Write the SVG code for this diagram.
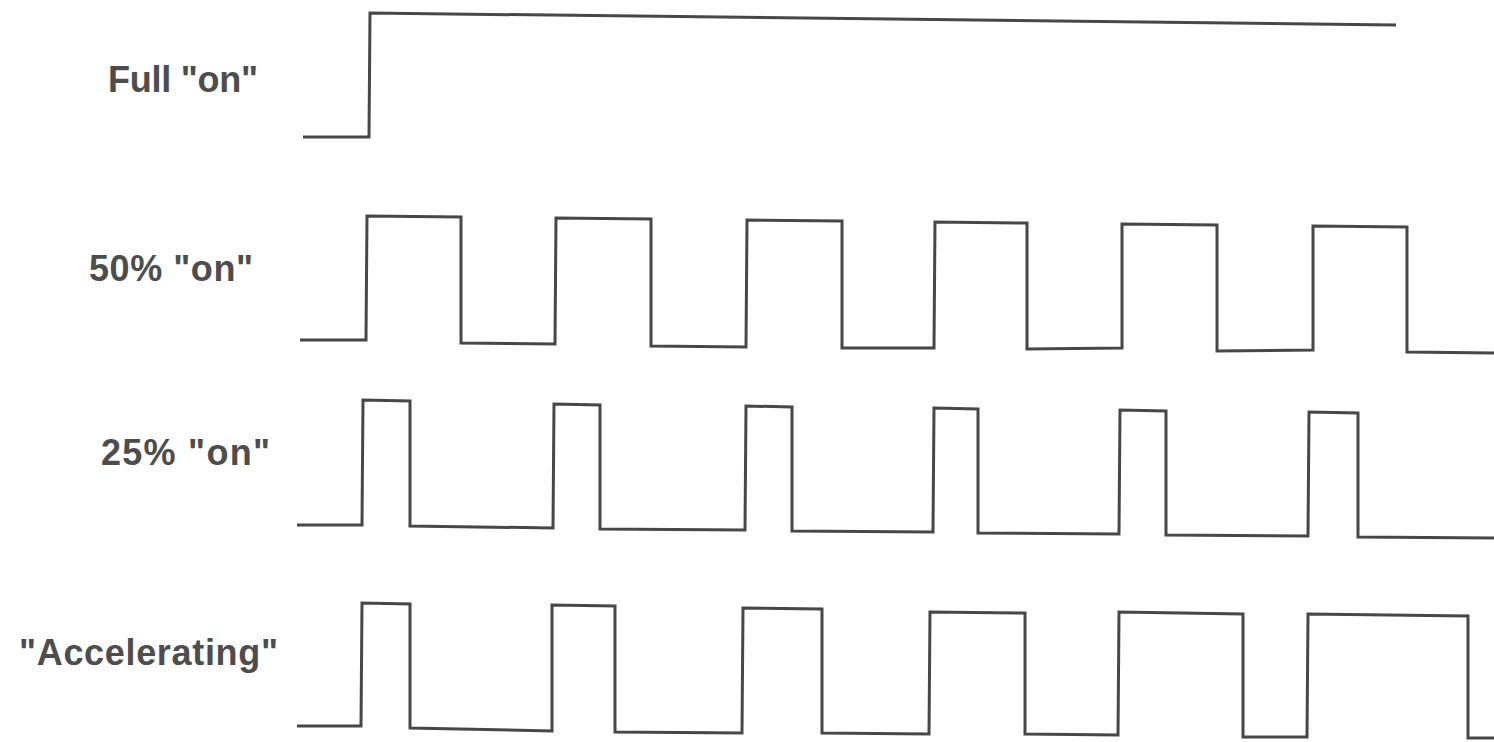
<svg xmlns="http://www.w3.org/2000/svg" width="1494" height="742" viewBox="0 0 1494 742">
<style>
.lbl{font-family:"Liberation Sans",Arial,sans-serif;font-weight:bold;font-size:36px;fill:#4d4d4d}
.wave{fill:none;stroke:#474747;stroke-width:3;stroke-linejoin:miter;stroke-linecap:butt}
</style>
<rect width="1494" height="742" fill="#ffffff"/>
<g id="row-full">
<text class="lbl" x="108" y="92" textLength="150" lengthAdjust="spacing">Full "on"</text>
<path class="wave" d="M303,137 L369,137 L370,13 L1396,25"/>
</g>
<g id="row-50">
<text class="lbl" x="89" y="281" textLength="164" lengthAdjust="spacing">50% "on"</text>
<path class="wave" d="M300,340 L366,340 L367,216 L461,217 L461,343 L555,344 L556,218 L651,219 L651,346 L746,347 L747,220 L842,221 L842,348 L934,348 L935,222 L1027,223 L1027,349 L1122,348 L1122,224 L1217,225 L1217,351 L1313,350 L1313,226 L1407,227 L1407,352 L1494,353"/>
</g>
<g id="row-25">
<text class="lbl" x="101" y="465" textLength="169" lengthAdjust="spacing">25% "on"</text>
<path class="wave" d="M297,525 L362,525 L363,400 L410,401 L410,526 L553,528 L554,404 L600,405 L600,529 L745,530 L746,406 L792,407 L792,531 L933,532 L934,408 L978,409 L978,533 L1119,534 L1120,410 L1166,411 L1166,535 L1308,536 L1309,412 L1358,413 L1358,537 L1494,538"/>
</g>
<g id="row-accel">
<text class="lbl" x="19" y="665" textLength="259" lengthAdjust="spacing">"Accelerating"</text>
<path class="wave" d="M297,726 L361,726 L362,603 L410,604 L410,728 L552,731 L552,605 L615,606 L615,732 L742,733 L743,608 L822,609 L822,733 L929,734 L930,612 L1025,613 L1025,734 L1118,735 L1119,612 L1243,614 L1243,737 L1307,737 L1308,614 L1468,616 L1468,738 L1494,738"/>
</g>
</svg>
